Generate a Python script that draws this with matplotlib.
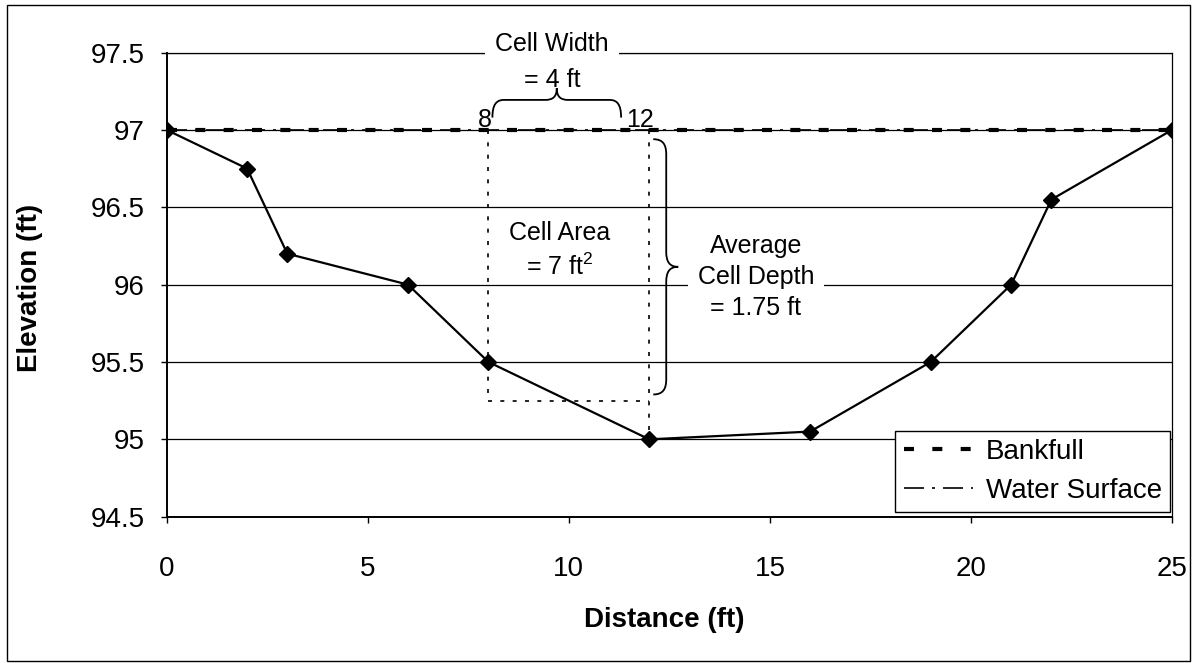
import numpy as np
import matplotlib
matplotlib.use("Agg")
import matplotlib.pyplot as plt
from matplotlib.path import Path
from matplotlib.patches import PathPatch, Rectangle

plt.rcParams['font.family'] = ['Liberation Sans', 'DejaVu Sans']
plt.rcParams['mathtext.fontset'] = 'custom'
plt.rcParams['mathtext.rm'] = 'Liberation Sans'
plt.rcParams['mathtext.it'] = 'Liberation Sans:italic'

# Channel cross-section survey
distance = [0, 2, 3, 6, 8, 12, 16, 19, 21, 22, 25]
elevation = [97.0, 96.75, 96.2, 96.0, 95.5, 95.0, 95.05, 95.5, 96.0, 96.55, 97.0]

bankfull_elev = 97.0
water_surface_elev = 97.0

# Example cell between two stations
cell_left = 8
cell_right = 12
cell_width = cell_right - cell_left
avg_cell_depth = 1.75
cell_area = cell_width * avg_cell_depth

x_ticks = [0, 5, 10, 15, 20, 25]
y_ticks = [94.5, 95, 95.5, 96, 96.5, 97, 97.5]
y_tick_labels = ['94.5', '95', '95.5', '96', '96.5', '97', '97.5']

fig = plt.figure(figsize=(11.94, 6.63), dpi=100)
ax = fig.add_axes([0.1396, 0.2207, 0.842, 0.700])

ax.set_xlim(0, 25)
ax.set_ylim(94.5, 97.5)
ax.set_xticks(x_ticks)
ax.set_xticklabels([str(t) for t in x_ticks])
ax.set_yticks(y_ticks)
ax.set_yticklabels(y_tick_labels)
ax.tick_params(axis='both', labelsize=20, direction='out', length=4, width=1, color='black')
ax.tick_params(axis='x', pad=24)
ax.tick_params(axis='y', pad=12)

ax.set_axisbelow(True)
ax.yaxis.grid(True, color='black', lw=0.9)
for side in ['left', 'bottom']:
    ax.spines[side].set_linewidth(1.4)
for side in ['top', 'right']:
    ax.spines[side].set_linewidth(0.9)

# Bankfull and water surface lines
bk, = ax.plot([0, 25], [bankfull_elev, bankfull_elev], color='black', lw=3,
              dashes=(2.4, 4.4), label='Bankfull', zorder=3)
ws, = ax.plot([0, 25], [water_surface_elev, water_surface_elev], color='black', lw=1.2,
              dashes=(12, 4.8, 1.8, 4.8), label='Water Surface', zorder=3)

# Cross-section profile
ax.plot(distance, elevation, color='black', lw=1.6, marker='D', markersize=8.5,
        markerfacecolor='black', markeredgecolor='black', zorder=4)

# Cell boundaries (dotted)
cell_bottom = bankfull_elev - avg_cell_depth
dot_kw = dict(color='black', lw=1.2, dashes=(2.4, 5.0), zorder=3)
bed_at_right = elevation[distance.index(cell_right)]
ax.plot([cell_left, cell_left], [bankfull_elev, cell_bottom], **dot_kw)
ax.plot([cell_right, cell_right], [bankfull_elev, bed_at_right], **dot_kw)
ax.plot([cell_left, cell_right], [cell_bottom, cell_bottom], **dot_kw)


def brace(ax, p0, p1, depth, r, bar=0.6, **kw):
    """Curly brace from p0 to p1 with its tip pushed out by the vector depth."""
    p0 = np.asarray(p0, float)
    p1 = np.asarray(p1, float)
    depth = np.asarray(depth, float)
    uv = [(0, 0), (0, bar * 0.75), (r * 0.35, bar), (r, bar),
          (0.5 - r, bar),
          (0.5 - r * 0.35, bar), (0.5, bar + (1 - bar) * 0.25), (0.5, 1.0),
          (0.5, bar + (1 - bar) * 0.25), (0.5 + r * 0.35, bar), (0.5 + r, bar),
          (1 - r, bar),
          (1 - r * 0.35, bar), (1, bar * 0.75), (1, 0)]
    codes = [Path.MOVETO, Path.CURVE4, Path.CURVE4, Path.CURVE4,
             Path.LINETO,
             Path.CURVE4, Path.CURVE4, Path.CURVE4,
             Path.CURVE4, Path.CURVE4, Path.CURVE4,
             Path.LINETO,
             Path.CURVE4, Path.CURVE4, Path.CURVE4]
    verts = [p0 + u * (p1 - p0) + v * depth for u, v in uv]
    ax.add_patch(PathPatch(Path(verts, codes), fill=False, **kw))


brace(ax, (8.1, 97.08), (11.3, 97.08), (0, 0.19), r=0.09, bar=0.6,
      ec='black', lw=1.3, zorder=5)
brace(ax, (12.1, 96.94), (12.1, 95.29), (0.62, 0), r=0.06, bar=0.52,
      ec='black', lw=1.3, zorder=5)

# Annotations
ax.text(8.08, 97.02, str(cell_left), fontsize=18, ha='right', va='baseline', zorder=6)
ax.text(12.12, 97.02, str(cell_right), fontsize=18, ha='right', va='baseline', zorder=6)
ax.text(9.58, 97.556, 'Cell Width', fontsize=18, ha='center', va='center', zorder=6,
        bbox=dict(boxstyle='square,pad=0.4', fc='white', ec='none'))
ax.text(9.58, 97.325, f'= {cell_width:g} ft', fontsize=18, ha='center', va='center', zorder=7)
ax.text(9.78, 96.22, 'Cell Area\n= ' + f'{cell_area:g}' + r' ft$^{2}$', fontsize=18,
        ha='center', va='center', multialignment='center', linespacing=1.4, zorder=6)
ax.text(14.65, 96.05, f'Average\nCell Depth\n= {avg_cell_depth:g} ft', fontsize=18,
        ha='center', va='center', multialignment='center', linespacing=1.35, zorder=6,
        bbox=dict(boxstyle='square,pad=0.4', fc='white', ec='none'))

ax.set_xlabel('Distance (ft)', fontsize=20, fontweight='bold', va='center')
ax.xaxis.set_label_coords(0.495, -0.2226)
ax.set_ylabel('Elevation (ft)', fontsize=20, fontweight='bold', va='center')
ax.yaxis.set_label_coords(-0.136, 0.493)

leg = ax.legend(handles=[bk, ws], loc='lower right', bbox_to_anchor=(0.998, 0.01),
                fontsize=20, frameon=True, fancybox=False, framealpha=1,
                edgecolor='black', handlelength=2.5, handletextpad=0.45,
                borderpad=0.3, labelspacing=0.45, borderaxespad=0)
leg.get_frame().set_linewidth(1.0)
leg.set_zorder(8)

# Chart border
fig.add_artist(Rectangle((7 / 1194, 1 - 661 / 663), (1190 - 7) / 1194, (661 - 5) / 663,
                         transform=fig.transFigure, fill=False, ec='black', lw=1.0))

fig.savefig('out.png', dpi=100)
